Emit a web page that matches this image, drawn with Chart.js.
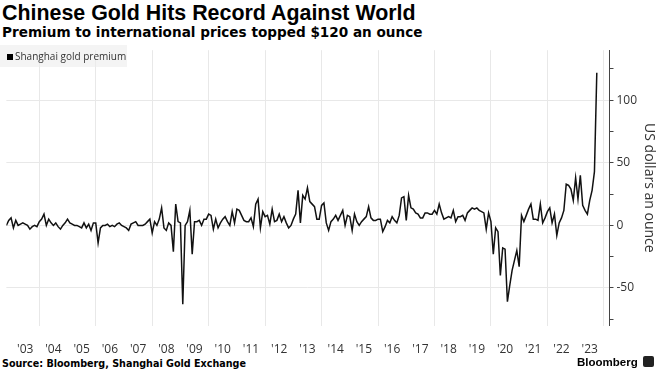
<!DOCTYPE html>
<html>
<head>
<meta charset="utf-8">
<script src="https://cdn.jsdelivr.net/npm/chart.js@4.4.0/dist/chart.umd.min.js"></script>
<style>
  body { margin: 0; width: 660px; height: 371px; overflow: hidden; background: #fff; position: relative; }
  #title { position: absolute; left: 2px; top: 1px; font: bold 21.4px "Liberation Sans", Arial, sans-serif; line-height: 24px; color: #000; white-space: nowrap; }
  #subtitle { position: absolute; left: 2px; top: 24px; font: bold 13.6px "DejaVu Sans", sans-serif; line-height: 16px; color: #000; white-space: nowrap; }
  #chartBox { position: absolute; left: 0; top: 40px; width: 660px; height: 316px; }
  #legend { position: absolute; left: 0; top: 45px; width: 127px; height: 22px; background: rgba(236,236,236,0.6); font: 10px "Open Sans", sans-serif; color: #333; line-height: 22px; white-space: nowrap; }
  #legend i { display: inline-block; width: 6px; height: 6px; background: #000; margin: 0 2px 0 7px; vertical-align: 0px; }
  #source { position: absolute; left: 2px; top: 357px; font: bold 9.6px "DejaVu Sans", sans-serif; line-height: 13px; color: #000; white-space: nowrap; }
  #logo { position: absolute; left: 577px; top: 355px; font: bold 11.5px "Liberation Sans", Arial, sans-serif; line-height: 14px; color: #000; white-space: nowrap; }
  #logo span { display: inline-block; width: 11px; height: 11px; background: #222; border-radius: 2px; margin-left: 5px; vertical-align: -1px; }
</style>
</head>
<body>
<div id="title">Chinese Gold Hits Record Against World</div>
<div id="subtitle">Premium to international prices topped $120 an ounce</div>
<div id="chartBox"><canvas id="chart"></canvas></div>
<div id="legend"><i></i>Shanghai gold premium</div>
<div id="source">Source: Bloomberg, Shanghai Gold Exchange</div>
<div id="logo">Bloomberg<span></span></div>
<script>
// monthly Shanghai premium, US$/oz, Nov 2002 .. Oct 2023
const startYear = 2002;
const startMonth = 10; // 0-based, November
const premium = [
  0, 4, 6, -2, 4, 0, 1, 2, 1, 0,
  -3, -1, 0, -1, 3, 5, 9, 0, 5, 2,
  0, 2, -1, -3, 0, 2, 5, 2, 1, 0,
  0, -1, -2, 2, -2, 1, -4, 2, 2, -14,
  -2, 0, 0, 1, -1, 0, -1, 1, 2, 0,
  -1, -2, -4, 1, 2, 3, 0, 0, 0, 1,
  3, 5, -6, 3, 0, 5, 14, -2, -4, 2,
  0, -21, 17, 3, 2, -63, 0, 3, 12, -23,
  3, 3, 4, 0, 5, 5, 9, 8, -3, 5,
  -2, 2, 5, 7, 3, 0, 11, 2, 13, 12,
  8, 4, 3, 3, 6, -1, 17, 21, -2, 11,
  7, 8, 1, 13, 3, 4, 9, 3, 7, 2,
  -2, 0, 5, 9, 28, 2, 24, 21, 30, 19,
  17, 15, 5, 5, 16, 18, 2, -4, 3, 5,
  8, 4, 8, 12, 0, 8, 7, -4, 9, 3,
  0, 3, 5, 7, 15, 6, 4, 4, 5, 5,
  -5, -1, 4, 2, 7, 4, 2, 8, 22, 23,
  4, 24, 14, 13, 10, 9, 6, 6, 10, 10,
  9, 9, 12, 9, 17, 10, 5, 6, 7, 6,
  12, 3, 7, 7, 8, 4, 10, 12, 14, 13,
  14, 12, 11, 10, -3, 10, 3, -23, -2, -5,
  -40, -18, -19, -61, -48, -36, -28, -20, -33, 8,
  3, 8, 13, 17, 5, 5, 4, 17, 2, 6,
  11, 14, 2, 9, -8, 2, 6, 12, 33, 32,
  29, 20, 38, 21, 40, 16, 12, 9, 20, 28,
  43, 122
];
const yearLabels = ["'03", "'04", "'05", "'06", "'07", "'08", "'09", "'10", "'11", "'12",
  "'13", "'14", "'15", "'16", "'17", "'18", "'19", "'20", "'21", "'22", "'23"];
const firstLabelYear = 2003;
const gridYears = [2004, 2006, 2008, 2010, 2012, 2014, 2016, 2018, 2020, 2022, 2024];
const yLabels = [-50, 0, 50, 100];
const yMinor = [-75, -25, 25, 75, 125];

const points = premium.map((v, i) => ({ x: startYear + (startMonth + i) / 12, y: v }));

const ctx = document.getElementById('chart').getContext('2d');
new Chart(ctx, {
  type: 'line',
  data: {
    datasets: [{
      label: 'Shanghai gold premium',
      data: points,
      borderColor: '#111',
      borderWidth: 1.5,
      pointRadius: 0,
      tension: 0,
      fill: false
    }]
  },
  options: {
    responsive: true,
    maintainAspectRatio: false,
    animation: false,
    layout: { padding: { top: 5, left: 0, right: 0, bottom: 0 } },
    plugins: { legend: { display: false }, tooltip: { enabled: false } },
    scales: {
      x: {
        type: 'linear',
        min: startYear + startMonth / 12,
        max: 2024.2,
        afterBuildTicks: (scale) => {
          const t = [];
          yearLabels.forEach((l, i) => t.push({ value: firstLabelYear + i + 0.5 }));
          gridYears.forEach(y => t.push({ value: y }));
          t.sort((a, b) => a.value - b.value);
          scale.ticks = t;
        },
        afterFit: (scale) => { scale.height = 30.5; },
        border: { display: false },
        grid: {
          drawTicks: false,
          color: (c) => (c.tick && Number.isInteger(c.tick.value)) ? '#e8e8e8' : 'rgba(0,0,0,0)',
          lineWidth: 1
        },
        ticks: {
          autoSkip: false,
          maxRotation: 0,
          padding: 17,
          color: '#333',
          font: { family: 'Open Sans', size: 12 },
          callback: (v) => {
            if (Number.isInteger(v)) return '';
            return yearLabels[Math.floor(v) - firstLabelYear] || '';
          }
        }
      },
      y: {
        position: 'right',
        min: -80,
        max: 140,
        afterBuildTicks: (scale) => {
          scale.ticks = yLabels.concat(yMinor).sort((a, b) => a - b).map(v => ({ value: v }));
        },
        afterFit: (scale) => { scale.width = 50.5; },
        border: { display: true, color: '#444', width: 1 },
        grid: {
          drawTicks: true,
          tickLength: 4,
          color: (c) => (c.tick && yLabels.includes(c.tick.value)) ? '#e8e8e8' : 'rgba(0,0,0,0)',
          tickColor: '#444'
        },
        ticks: {
          padding: 3,
          color: '#333',
          font: { family: 'Open Sans', size: 12 },
          callback: (v) => yLabels.includes(v) ? String(v) : ''
        },
        title: {
          display: true,
          text: 'US dollars an ounce',
          color: '#333',
          font: { family: 'Open Sans', size: 14 },
          padding: { top: 3, bottom: 0 }
        }
      }
    }
  }
});
</script>
</body>
</html>
